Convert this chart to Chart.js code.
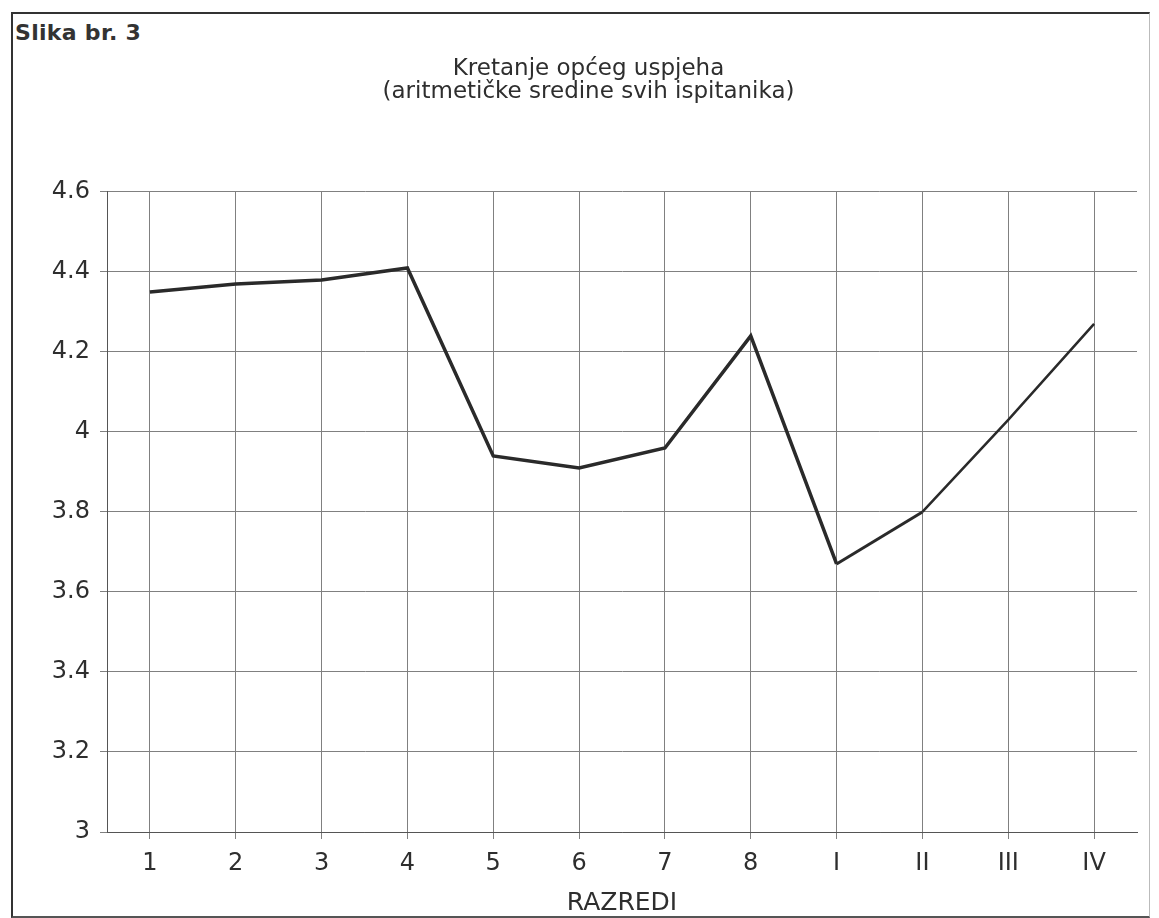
<!DOCTYPE html>
<html>
<head>
<meta charset="utf-8">
<script src="https://cdn.jsdelivr.net/npm/chart.js@4"></script>
<style>
  html, body { margin: 0; padding: 0; background: #fff; }
  #wrap { position: relative; width: 1159px; height: 918px; overflow: hidden; }
  #frame { position: absolute; left: 11px; top: 12px; width: 1136px; height: 902px;
           border-left: 2px solid #333; border-top: 2px solid #333; border-bottom: 2px solid #555;
           border-right: 1px solid #bbb; }
  #label { position: absolute; left: 15px; top: 22px; font-family: "DejaVu Sans", sans-serif;
           font-weight: bold; font-size: 22px; line-height: 22px; letter-spacing: 0.3px; color: #333; white-space: nowrap; }
  canvas { position: absolute; left: 0; top: 0; }
</style>
</head>
<body>
<div id="wrap">
  <div id="frame"></div>
  <div id="label">Slika br. 3</div>
  <canvas id="c" width="1159" height="918"></canvas>
</div>
<script>
const categories = ['1', '2', '3', '4', '5', '6', '7', '8', 'I', 'II', 'III', 'IV'];
const successMeans = [4.35, 4.37, 4.38, 4.41, 3.94, 3.91, 3.96, 4.24, 3.67, 3.80, 4.03, 4.27];
const yTickValues = [3, 3.2, 3.4, 3.6, 3.8, 4, 4.2, 4.4, 4.6];
const yTickLabels = ['3', '3.2', '3.4', '3.6', '3.8', '4', '4.2', '4.4', '4.6'];
const titleLines = ['Kretanje općeg uspjeha', '(aritmetičke sredine svih ispitanika)'];
const xAxisTitle = 'RAZREDI';

const gridColor = '#808080';
const textColor = '#2e2e2e';

new Chart(document.getElementById('c'), {
  type: 'line',
  data: {
    labels: categories,
    datasets: [{
      data: successMeans,
      borderColor: '#2a2a2a',
      borderWidth: 3.5,
      pointRadius: 0,
      tension: 0,
      fill: false,
      segment: {
        borderWidth: ctx => ctx.p0DataIndex >= 9 ? 2.5 : (ctx.p0DataIndex === 8 ? 3 : 3.5)
      }
    }]
  },
  options: {
    responsive: false,
    animation: false,
    devicePixelRatio: 1,
    layout: { padding: { left: 40, right: 22, top: 0, bottom: 0 } },
    plugins: {
      legend: { display: false },
      tooltip: { enabled: false },
      title: {
        display: true,
        text: titleLines,
        color: textColor,
        font: { family: 'DejaVu Sans', size: 23, weight: 'normal', lineHeight: 1.02 },
        padding: { top: 57, bottom: 88 }
      }
    },
    scales: {
      x: {
        offset: true,
        grid: { color: gridColor, lineWidth: 1, drawTicks: true, tickLength: 7, tickColor: gridColor, offset: false },
        border: { color: '#555', width: 1 },
        ticks: {
          color: textColor,
          padding: 10,
          font: { family: 'DejaVu Sans', size: 24, lineHeight: 1.2 },
          maxRotation: 0
        },
        title: {
          display: true,
          text: xAxisTitle,
          color: textColor,
          font: { family: 'DejaVu Sans', size: 25, lineHeight: 1.0 },
          padding: { top: 2, bottom: 2 }
        },
        afterFit: s => { s.height = 86; }
      },
      y: {
        min: 3,
        max: 4.6,
        grid: { color: gridColor, lineWidth: 1, drawTicks: true, tickLength: 7, tickColor: gridColor },
        border: { color: '#555', width: 1 },
        afterBuildTicks: s => { s.ticks = yTickValues.map(v => ({ value: v })); },
        ticks: {
          color: textColor,
          padding: 10,
          font: { family: 'DejaVu Sans', size: 24, lineHeight: 1.2 },
          callback: (v) => {
            const i = yTickValues.findIndex(t => Math.abs(t - v) < 1e-6);
            return i >= 0 ? yTickLabels[i] : '';
          }
        },
        afterFit: s => { s.width = 67; }
      }
    }
  }
});
</script>
</body>
</html>
